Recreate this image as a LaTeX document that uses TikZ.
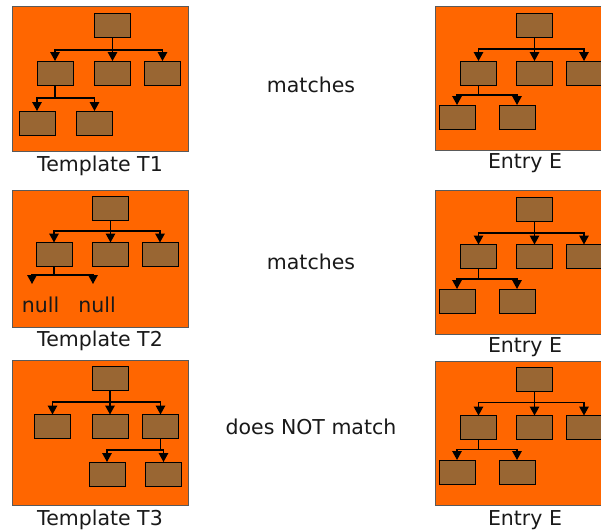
\documentclass[tikz,border=0pt]{standalone}
\usepackage{fontspec}
\setmainfont{DejaVu Sans}
\usetikzlibrary{arrows.meta}
\definecolor{panelfill}{HTML}{FF6600}
\definecolor{boxfill}{HTML}{996633}
\definecolor{panelline}{HTML}{5A5A5A}
\begin{document}
\begin{tikzpicture}[x=1pt,y=-1pt,
  panel/.style={fill=panelfill,draw=panelline,line width=1pt},
  bx/.style={draw=black,fill=boxfill,line width=1pt,minimum width=36pt,minimum height=24pt,inner sep=0pt,outer sep=0pt},
  arr/.style={draw=black,line width=1.4pt,-{Triangle[length=9pt,width=9.5pt]}},
  lbl/.style={anchor=base,font=\fontsize{20.5}{24}\selectfont,text=black!90,inner sep=0pt}]
\useasboundingbox (0,0) rectangle (601,531);
\clip (0,0) rectangle (601,531);

% ---------- Template T1 ----------
\fill[panel] (12,6) rectangle (188,151);
\node[bx] (a0) at (112.5,25) {};
\node[bx] (a1) at (55,73) {};
\node[bx] (a2) at (112.5,73) {};
\node[bx] (a3) at (162.5,73) {};
\node[bx] (a4) at (37,123) {};
\node[bx] (a5) at (94.5,123) {};
\draw[arr] (a0.south) -- ++(0,13) -| (a1.north);
\draw[arr] (a0.south) -- ++(0,13) -| (a2.north);
\draw[arr] (a0.south) -- ++(0,13) -| (a3.north);
\draw[arr] (a1.south) -- ++(0,13) -| (a4.north);
\draw[arr] (a1.south) -- ++(0,13) -| (a5.north);
\node[lbl] (t1) at (100,171) {Template T1};

% ---------- Entry E (top) ----------
\fill[panel] (435,6) rectangle (640,150);
\node[bx] (b0) at (534.5,25) {};
\node[bx] (b1) at (478.5,73) {};
\node[bx] (b2) at (534.5,73) {};
\node[bx] (b3) at (584,73) {};
\node[bx] (b4) at (457,117) {};
\node[bx] (b5) at (517,117) {};
\draw[arr] (b0.south) -- ++(0,12) -| (b1.north);
\draw[arr] (b0.south) -- ++(0,12) -| (b2.north);
\draw[arr] (b0.south) -- ++(0,12) -| (b3.north);
\draw[arr] (b1.south) -- ++(0,10) -| (b4.north);
\draw[arr] (b1.south) -- ++(0,10) -| (b5.north);
\node[lbl] (e1) at (525,168) {Entry E};

\node[lbl] (m1) at (311,92) {matches};

% ---------- Template T2 ----------
\fill[panel] (12,190) rectangle (188,327);
\node[bx] (c0) at (110.5,208.5) {};
\node[bx] (c1) at (54,254.5) {};
\node[bx] (c2) at (110.5,254.5) {};
\node[bx] (c3) at (160,254.5) {};
\coordinate (n1) at (32,284);
\coordinate (n2) at (93,284);
\draw[arr] (c0.south) -- ++(0,10.5) -| (c1.north);
\draw[arr] (c0.south) -- ++(0,10.5) -| (c2.north);
\draw[arr] (c0.south) -- ++(0,10.5) -| (c3.north);
\draw[arr] (c1.south) -- ++(0,8.5) -| (n1);
\draw[arr] (c1.south) -- ++(0,8.5) -| (n2);
\node[lbl] (null1) at (40.5,312) {null};
\node[lbl] (null2) at (97,312) {null};
\node[lbl] (t2) at (100,346) {Template T2};

% ---------- Entry E (middle) ----------
\fill[panel] (435,190) rectangle (640,334);
\node[bx] (d0) at (534.5,209) {};
\node[bx] (d1) at (478.5,256.5) {};
\node[bx] (d2) at (534.5,256.5) {};
\node[bx] (d3) at (584,256.5) {};
\node[bx] (d4) at (457,301) {};
\node[bx] (d5) at (517,301) {};
\draw[arr] (d0.south) -- ++(0,12) -| (d1.north);
\draw[arr] (d0.south) -- ++(0,12) -| (d2.north);
\draw[arr] (d0.south) -- ++(0,12) -| (d3.north);
\draw[arr] (d1.south) -- ++(0,10.5) -| (d4.north);
\draw[arr] (d1.south) -- ++(0,10.5) -| (d5.north);
\node[lbl] (e2) at (525,352) {Entry E};

\node[lbl] (m2) at (311,269) {matches};

% ---------- Template T3 ----------
\fill[panel] (12,360) rectangle (188,505);
\node[bx] (f0) at (110,378.5) {};
\node[bx] (f1) at (52.5,426.5) {};
\node[bx] (f2) at (110,426.5) {};
\node[bx] (f3) at (160.5,426.5) {};
\node[bx] (f4) at (107,474) {};
\node[bx] (f5) at (163.5,474) {};
\draw[arr] (f0.south) -- ++(0,11.5) -| (f1.north);
\draw[arr] (f0.south) -- ++(0,11.5) -| (f2.north);
\draw[arr] (f0.south) -- ++(0,11.5) -| (f3.north);
\draw[arr] (f3.south) -- ++(0,11.5) -| (f4.north);
\draw[arr] (f3.south) -- ++(0,11.5) -| (f5.north);
\node[lbl] (t3) at (100,525.5) {Template T3};

% ---------- Entry E (bottom) ----------
\fill[panel] (435,361) rectangle (640,505);
\node[bx] (g0) at (534.5,379.5) {};
\node[bx] (g1) at (478.5,427.5) {};
\node[bx] (g2) at (534.5,427.5) {};
\node[bx] (g3) at (584,427.5) {};
\node[bx] (g4) at (457,472) {};
\node[bx] (g5) at (517,472) {};
\draw[arr] (g0.south) -- ++(0,11) -| (g1.north);
\draw[arr] (g0.south) -- ++(0,11) -| (g2.north);
\draw[arr] (g0.south) -- ++(0,11) -| (g3.north);
\draw[arr] (g1.south) -- ++(0,10) -| (g4.north);
\draw[arr] (g1.south) -- ++(0,10) -| (g5.north);
\node[lbl] (e3) at (525,525) {Entry E};

\node[lbl] (m3) at (311,434) {does NOT match};
\end{tikzpicture}
\end{document}
